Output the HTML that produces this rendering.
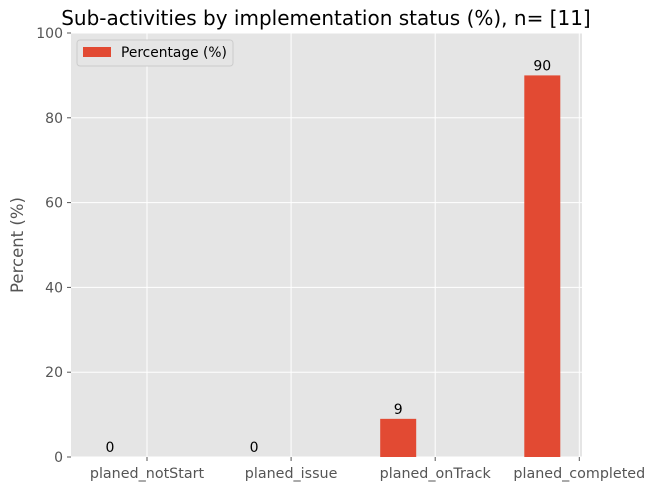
<!DOCTYPE html>
<html><head><meta charset="utf-8"><style>
body{margin:0;background:#fff;}
svg text{font-family:"DejaVu Sans","Liberation Sans",sans-serif;}
</style></head><body>
<svg width="651" height="491" xmlns="http://www.w3.org/2000/svg" id="chart">
<text x="326" y="25" text-anchor="middle" font-size="20" fill="#000">Sub-activities by implementation status (%), n= [11]</text>
<rect x="71" y="33" width="511" height="424" fill="#e5e5e5"/>
<g id="grid"></g><g id="bars"></g><g id="axes"></g>
<text transform="translate(23,245) rotate(-90)" text-anchor="middle" font-size="16.5" fill="#555">Percent (%)</text>
<g>
<rect x="77" y="40" width="156" height="26" rx="3" fill="#e5e5e5" stroke="#ccc"/>
<rect x="83" y="47" width="28" height="10" fill="#e24a33"/>
<text x="121" y="57" font-size="13.8" fill="#000">Percentage (%)</text>
</g>
</svg>
<script>
const categories=["planed_notStart","planed_issue","planed_onTrack","planed_completed"];
const values=[0,0,9,90];
const labels=["0","0","9","90"];
const yTicks=[0,20,40,60,80,100];
const NS="http://www.w3.org/2000/svg";
const x=i=>147+(i)*144.1;
const y=v=>457-v*4.24;
function mk(t,a,p){const e=document.createElementNS(NS,t);for(const k in a)e.setAttribute(k,a[k]);p.appendChild(e);return e;}
const g=document.getElementById('grid'),b=document.getElementById('bars'),ax=document.getElementById('axes');
yTicks.forEach(t=>{
const l=mk('line',{x1:71,x2:582,y1:y(t),y2:y(t),stroke:'#fff','stroke-width':1},g);


const tk=mk('line',{x1:67,x2:71,y1:y(t),y2:y(t),stroke:'#555'},ax);


const tx=mk('text',{x:63,y:y(t)+5,'text-anchor':'end','font-size':14,fill:'#555'},ax);
tx.textContent=t;


});
categories.forEach((c,i)=>{
const l=mk('line',{x1:x(i),x2:x(i),y1:33,y2:457,stroke:'#fff'},g);


const tk=mk('line',{x1:x(i),x2:x(i),y1:457,y2:461,stroke:'#555'},ax);


const tx=mk('text',{x:x(i),y:478,'text-anchor':'middle','font-size':14.3,fill:'#555'},ax);
tx.textContent=c;


const cx=x(i)-37;
const r=mk('rect',{x:cx-18,y:y(values[i]),width:36,height:457-y(values[i]),fill:'#e24a33'},b);


const v=mk('text',{x:cx,y:y(values[i])-5,'text-anchor':'middle','font-size':14,fill:'#000'},b);
v.textContent=labels[i];


});
</script>
</body></html>
